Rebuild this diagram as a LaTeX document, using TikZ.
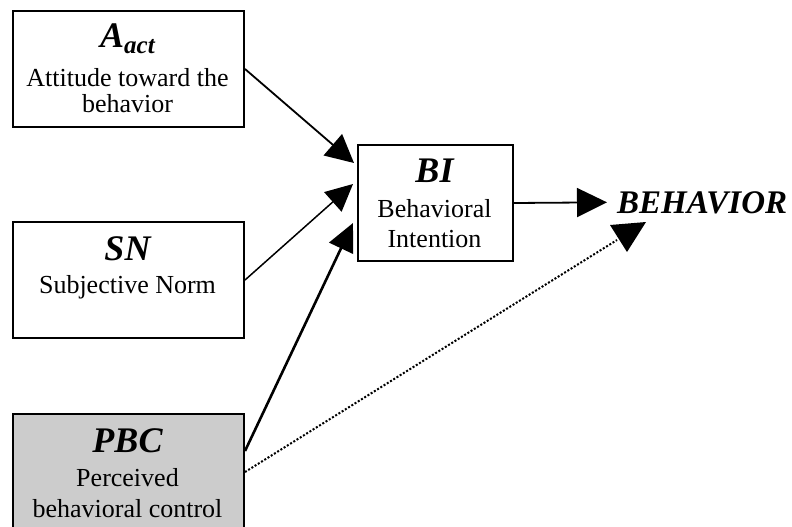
\documentclass[tikz,border=0pt]{standalone}
\usepackage{fontspec}
\setmainfont{Liberation Serif}
\usetikzlibrary{arrows.meta}
\definecolor{pbcgray}{RGB}{204,204,204}
\tikzset{
  box/.style={draw=black, line width=2pt, minimum width=231pt, minimum height=116pt, inner sep=0pt, anchor=north west},
  head/.style={font=\fontsize{36}{36}\selectfont\bfseries\itshape, anchor=base, inner sep=0pt},
  body/.style={font=\fontsize{26}{26}\selectfont, anchor=base, inner sep=0pt},
  arr/.style={line width=1.8pt, -{Triangle[length=28pt,width=28pt]}},
}
\begin{document}
\begin{tikzpicture}[x=1pt,y=-1pt]
\useasboundingbox (0,0) rectangle (792,527);
% boxes
\node[box] (a) at (12,10) {};
\node[box] (sn) at (12,221) {};
\node[box, fill=pbcgray] (pbc) at (12,413) {};
\node[box, minimum width=155pt] (bi) at (357,144) {};
% texts
\node[head] (ah) at (127.5,48) {A\raisebox{-6pt}{\fontsize{25}{25}\selectfont act}};
\node[body] (a1) at (127.5,86) {Attitude toward the};
\node[body] (a2) at (127.5,112) {behavior};
\node[head] (snh) at (127.5,260) {SN};
\node[body] (sn1) at (127.5,293) {Subjective Norm};
\node[head] (pbch) at (127.5,452) {PBC};
\node[body] (pbc1) at (127.5,486) {Perceived};
\node[body] (pbc2) at (127.5,517) {behavioral control};
\node[head] (bih) at (434.5,182) {BI};
\node[body] (bi1) at (434.5,217) {Behavioral};
\node[body] (bi2) at (434.5,247) {Intention};
\node[font=\fontsize{33}{33}\selectfont\bfseries\itshape, anchor=base west, inner xsep=10pt, inner ysep=0pt] (beh) at (607,213) {BEHAVIOR};
% target points
\coordinate (tA) at ([shift={(-3,19)}]bi.north west);
\coordinate (tS) at ([shift={(-4,40)}]bi.north west);
\coordinate (tP) at ([shift={(-4,79)}]bi.north west);
\coordinate (pS) at ([shift={(0,-21)}]pbc.east);
\coordinate (dEnd) at (617,240);
% connectors
\draw[arr] (a.east) -- (tA);
\draw[arr, line width=1.5pt, -{Triangle[length=27pt,width=26pt]}] (sn.east) -- (tS);
\draw[arr, line width=2.6pt, -{Triangle[length=28pt,width=26pt]}] (pS) -- (tP);
\draw[arr, -{Triangle[length=30pt,width=29pt]}] (bi.east) -- (beh.west);
\draw[line width=2pt, dash pattern=on 2pt off 1.8pt] (pbc.east) -- (dEnd);
\fill (610,225) -- (646,222) -- (627,252) -- cycle;
\end{tikzpicture}
\end{document}
